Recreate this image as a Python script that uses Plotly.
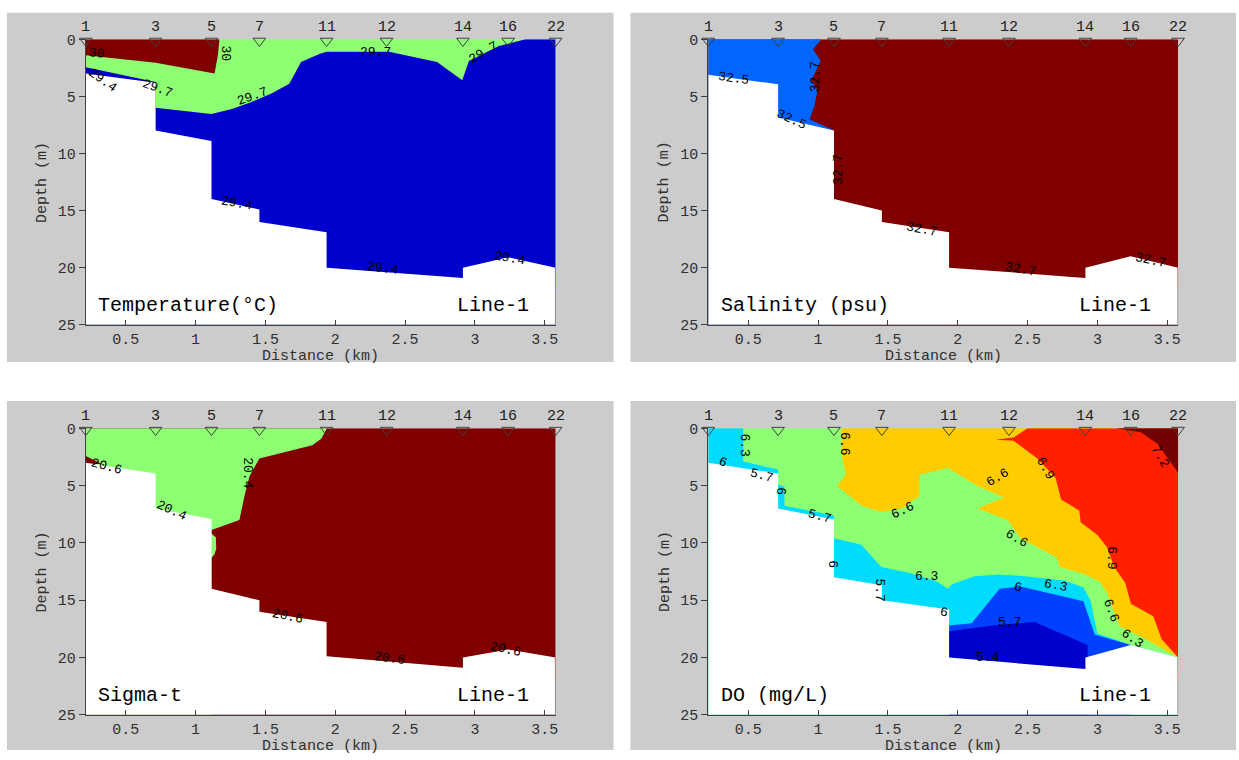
import plotly.graph_objects as go

# ---------------- data ----------------
stations = ["1", "3", "5", "7", "11", "12", "14", "16", "22"]
station_km = [0.214, 0.714, 1.114, 1.457, 1.938, 2.367, 2.914, 3.238, 3.578]
max_depth = 25

floor_km = [0.214, 0.714, 0.714, 1.114, 1.114, 1.457, 1.457, 1.938, 1.938, 2.914, 2.914, 3.238, 3.578]
temp_floor_depth = [3.0, 3.8, 8.0, 8.9, 14.0, 14.9, 16.0, 16.9, 20.0, 20.9, 20.0, 19.1, 20.0]
sal_floor_depth = [3.1, 3.95, 6.85, 8.0, 14.0, 15.0, 16.0, 16.9, 20.0, 20.9, 20.0, 19.0, 20.0]
sig_floor_depth = [3.0, 3.95, 7.0, 7.9, 14.0, 15.0, 16.0, 16.9, 19.9, 20.9, 20.0, 19.3, 20.0]
do_floor_depth = [3.0, 3.95, 7.0, 7.95, 13.0, 13.7, 15.0, 15.8, 20.0, 21.0, 20.0, 18.9, 20.0]
edge_depth = [20.0, 21.9]

# Temperature regions (29.4-29.7 blue, 29.7-30 green, >30 dark red)
temp_blue_km = [0.214, 0.714, 0.714, 1.114, 1.26, 1.4, 1.55, 1.671, 1.755, 1.886, 1.938, 2.386,
                2.729, 2.909, 2.957, 3.171, 3.362, 3.578, 3.578, 0.214]
temp_blue_depth = [2.45, 3.74, 6.0, 6.55, 6.1, 5.5, 4.7, 3.9, 2.0, 1.3, 1.1, 1.1,
                   2.0, 3.6, 1.9, 0.6, 0.0, 0.0, 25, 25]
temp_warm_km = [0.214, 1.171, 1.16, 1.136, 0.714, 0.214]
temp_warm_depth = [0.0, 0.0, 1.4, 3.0, 2.05, 1.4]
temp_lab_text = ["30", "30", "29.4", "29.7", "29.7", "29.7", "29.7", "29.4", "29.4", "29.4"]
temp_lab_km = [0.293, 1.214, 0.336, 0.729, 1.407, 2.286, 3.064, 1.293, 2.336, 3.25]
temp_lab_depth = [1.28, 1.28, 3.6, 4.28, 5.05, 1.2, 1.2, 14.4, 20.1, 19.2]
temp_lab_angle = [5, 90, 35, 20, -20, 0, -30, 10, 8, 10]

# Salinity regions (32.5-32.7 blue, >32.7 dark red)
sal_blue_km = [0.214, 1.024, 0.964, 1.019, 0.952, 0.995, 0.976, 0.94, 1.114, 1.114, 0.214]
sal_blue_depth = [0, 0, 0.88, 1.88, 3.6, 4.54, 5.73, 7.0, 8.0, 25, 25]
sal_lab_text = ["32.5", "32.7", "32.5", "32.7", "32.7", "32.7", "32.7"]
sal_lab_km = [0.393, 0.988, 0.81, 1.143, 1.738, 2.45, 3.38]
sal_lab_depth = [3.45, 3.3, 7.0, 11.45, 16.7, 20.15, 19.4]
sal_lab_angle = [8, -90, 25, -90, 10, 10, 12]

# Sigma-t regions (20.4-20.6 green, >20.6 dark red)
sig_green_km = [0.214, 1.94, 1.9, 1.836, 1.457, 1.386, 1.35, 1.314, 1.114, 1.114, 1.145,
                1.148, 1.135, 1.114, 1.114, 0.214]
sig_green_depth = [0, 0, 0.9, 1.48, 2.62, 4.18, 5.9, 8.0, 8.87, 9.2, 9.5,
                   10.5, 11.0, 11.3, 25, 25]
sig_dense_km = [0.214, 0.33, 0.214]
sig_dense_depth = [2.42, 3.1, 3.1]
sig_lab_text = ["20.6", "20.4", "20.4", "20.6", "20.6", "20.6"]
sig_lab_km = [0.362, 0.826, 1.374, 1.66, 2.386, 3.22]
sig_lab_depth = [3.33, 7.17, 3.9, 16.4, 20.1, 19.26]
sig_lab_angle = [15, 25, 90, 12, 8, 12]

# DO regions
do_cyan_a_km = [0.214, 0.464, 0.464, 0.714, 0.714, 0.76, 0.76, 1.114, 1.114, 0.214]
do_cyan_a_depth = [0, 0, 2.9, 3.6, 4.9, 5.1, 6.75, 7.6, 25, 25]
do_cyan_b_km = [1.114, 1.31, 1.452, 1.65, 1.84, 1.93, 1.96, 2.12, 2.3, 2.48, 2.77, 2.9,
                2.95, 3.0, 3.24, 3.578, 3.578, 1.114]
do_cyan_b_depth = [9.6, 10.15, 12.1, 12.6, 13.3, 14.0, 13.6, 12.9, 12.75, 12.9, 13.3, 13.9,
                   15.0, 17.9, 18.9, 20.0, 25, 25]
do_blue_km = [1.938, 2.1, 2.3, 2.45, 2.9, 2.98, 3.238, 3.238, 1.938]
do_blue_depth = [17.2, 17.0, 14.0, 13.8, 15.1, 18.0, 18.9, 25, 25]
do_dblue_km = [1.938, 2.25, 2.55, 2.93, 2.93, 1.938]
do_dblue_depth = [17.7, 17.2, 16.9, 18.9, 25, 25]
do_orange_km = [1.167, 1.17, 1.2, 1.138, 1.31, 1.452, 1.6, 1.726, 1.726, 1.93, 2.14, 2.33,
                2.14, 2.357, 2.45, 2.71, 2.73, 2.9, 3.02, 3.07, 3.12, 3.16, 3.35, 3.578, 3.578]
do_orange_depth = [0, 2.5, 4.0, 5.03, 6.74, 7.3, 7.0, 5.9, 4.04, 3.47, 5.03, 6.03,
                   7.0, 8.0, 9.6, 11.3, 12.1, 12.7, 13.4, 14.4, 16.0, 17.3, 18.4, 20.0, 0]
do_red_km = [2.5, 2.4, 2.27, 2.4, 2.57, 2.7, 2.74, 2.87, 2.88, 3.0, 3.07, 3.12, 3.2, 3.24,
             3.4, 3.46, 3.578, 3.578]
do_red_depth = [0, 0.8, 1.0, 1.08, 2.62, 4.3, 6.2, 7.17, 8.2, 9.3, 10.4, 12.1, 13.5, 15.3,
                16.4, 18.4, 20.0, 0]
do_dred_km = [3.13, 3.31, 3.43, 3.578, 3.578]
do_dred_depth = [0, 0.35, 1.35, 3.9, 0]
do_lab_text = ["6.3", "6", "5.7", "6.6", "6", "5.7", "6.6", "6", "6.3", "5.7", "6",
               "6.6", "6.9", "7.2", "6.6", "6.9", "6", "6.3", "6.6", "6.3", "5.7", "5.4"]
do_lab_km = [0.476, 0.321, 0.595, 1.19, 0.726, 1.012, 1.607, 1.107, 1.774, 1.44, 1.90,
             2.286, 2.63, 3.45, 2.42, 3.095, 2.43, 2.70, 3.10, 3.25, 2.37, 2.22]
do_lab_depth = [1.48, 2.99, 4.1, 1.34, 5.46, 7.65, 7.17, 11.86, 12.94, 14.1, 16.1,
                4.3, 3.47, 2.42, 9.6, 11.3, 13.86, 13.7, 15.86, 18.3, 16.94, 20.0]
do_lab_angle = [90, 20, 15, 90, 90, 15, -25, 90, 0, 90, 10,
                -30, 60, 60, 30, 90, 10, 10, 70, 35, 0, 0]

# ---------------- style ----------------
FONT = "Liberation Mono"
DARKRED = "#800000"
GREEN = "#8cff73"
GREY = "#cccccc"
AX = "#404040"

W, H = 1239, 760
px_left = [(86, 557), (710, 1181)]
px_top = [(33, 325), (431, 724)]

fig = go.Figure()
annotations = []
shapes = []

# grey panels
for (x0, x1) in [(7, 615), (632, 1239)]:
    for (y0, y1) in [(6, 363), (403, 760)]:
        shapes.append(dict(type="rect", xref="paper", yref="paper", layer="below",
                           x0=x0 / W, x1=x1 / W, y0=1 - y1 / H, y1=1 - y0 / H,
                           fillcolor=GREY, line=dict(width=0)))


def poly(ax, km, depth, color):
    fig.add_trace(go.Scatter(x=list(km) + [km[0]], y=list(depth) + [depth[0]], mode="lines",
                             fill="toself", fillcolor=color, line=dict(width=0, color=color),
                             hoverinfo="skip", showlegend=False, xaxis="x" + ax, yaxis="y" + ax))


def panel(ax, base, regions, floor_depth, edge_color, labels, title):
    x0, x1 = station_km[0], station_km[-1]
    poly(ax, [x0, x1, x1, x0], [0, 0, max_depth, max_depth], base)
    for km, dep, col in regions:
        poly(ax, km, dep, col)
    poly(ax, floor_km + [x1, x0], floor_depth + [max_depth, max_depth], "white")
    fig.add_trace(go.Scatter(x=[x1, x1], y=edge_depth, mode="lines",
                             line=dict(color=edge_color, width=1.5), hoverinfo="skip",
                             showlegend=False, xaxis="x" + ax, yaxis="y" + ax))
    fig.add_trace(go.Scatter(x=[x1, x1], y=[edge_depth[-1], max_depth], mode="lines",
                             line=dict(color="#808080", width=1.5), hoverinfo="skip",
                             showlegend=False, xaxis="x" + ax, yaxis="y" + ax))
    # station markers
    fig.add_trace(go.Scatter(x=station_km, y=[0.15] * len(station_km), mode="markers",
                             marker=dict(symbol="triangle-down-open", size=11,
                                         line=dict(color=AX, width=1), color=AX),
                             cliponaxis=False, hoverinfo="skip", showlegend=False,
                             xaxis="x" + ax, yaxis="y" + ax))
    xr = "x" + ax if ax else "x"
    yr = "y" + ax if ax else "y"
    for s, k in zip(stations, station_km):
        annotations.append(dict(x=k, y=0, xref=xr, yref=yr, text=s, showarrow=False,
                                xanchor="center", yanchor="middle", yshift=12,
                                font=dict(family=FONT, size=15, color="#202020")))
    for t, k, d, a in zip(*labels):
        annotations.append(dict(x=k, y=d, xref=xr, yref=yr, text=t, showarrow=False,
                                xanchor="center", yanchor="middle",
                                textangle=a, font=dict(family=FONT, size=13, color="black")))
    annotations.append(dict(x=0.29, y=23.3, xref=xr, yref=yr, text=title, showarrow=False,
                            xanchor="left", yanchor="middle",
                            font=dict(family=FONT, size=20, color="black")))
    annotations.append(dict(x=3.40, y=23.3, xref=xr, yref=yr, text="Line-1", showarrow=False,
                            xanchor="right", yanchor="middle",
                            font=dict(family=FONT, size=20, color="black")))


panel("", GREEN, [(temp_blue_km, temp_blue_depth, "#0000cc"),
                  (temp_warm_km, temp_warm_depth, DARKRED)],
      temp_floor_depth, "#6a6aff",
      (temp_lab_text, temp_lab_km, temp_lab_depth, temp_lab_angle), "Temperature(°C)")
panel("2", DARKRED, [(sal_blue_km, sal_blue_depth, "#0066ff")],
      sal_floor_depth, "#c06060",
      (sal_lab_text, sal_lab_km, sal_lab_depth, sal_lab_angle), "Salinity (psu)")
panel("3", DARKRED, [(sig_green_km, sig_green_depth, GREEN),
                     (sig_dense_km, sig_dense_depth, DARKRED)],
      sig_floor_depth, "#c06060",
      (sig_lab_text, sig_lab_km, sig_lab_depth, sig_lab_angle), "Sigma-t")
panel("4", GREEN, [(do_cyan_a_km, do_cyan_a_depth, "#00dcff"),
                   (do_cyan_b_km, do_cyan_b_depth, "#00dcff"),
                   (do_blue_km, do_blue_depth, "#0040ff"),
                   (do_dblue_km, do_dblue_depth, "#0000cd"),
                   (do_orange_km, do_orange_depth, "#ffcc00"),
                   (do_red_km, do_red_depth, "#ff2000"),
                   (do_dred_km, do_dred_depth, "#730000")],
      do_floor_depth, "#ff6050",
      (do_lab_text, do_lab_km, do_lab_depth, do_lab_angle), "DO (mg/L)")

layout_axes = {}
names = [("xaxis", "yaxis", 0, 0), ("xaxis2", "yaxis2", 1, 0),
         ("xaxis3", "yaxis3", 0, 1), ("xaxis4", "yaxis4", 1, 1)]
for xn, yn, c, r in names:
    (xa, xb), (ya, yb) = px_left[c], px_top[r]
    anchor_y = "y" + yn[5:]
    anchor_x = "x" + xn[5:]
    layout_axes[xn] = dict(domain=[xa / W, xb / W], range=[station_km[0], station_km[-1]],
                           anchor=anchor_y, tickvals=[0.5, 1, 1.5, 2, 2.5, 3, 3.5],
                           ticktext=["0.5", "1", "1.5", "2", "2.5", "3", "3.5"],
                           ticks="inside", ticklen=5, tickcolor=AX, showline=True,
                           linecolor=AX, linewidth=1, showgrid=False, zeroline=False,
                           tickfont=dict(family=FONT, size=15, color="#303030"))
    layout_axes[yn] = dict(domain=[1 - yb / H, 1 - ya / H], range=[max_depth, 0],
                           anchor=anchor_x, tickvals=[0, 5, 10, 15, 20, 25],
                           ticks="outside", ticklen=6, tickcolor=AX, showline=True,
                           linecolor=AX, linewidth=1, showgrid=False, zeroline=False,
                           tickfont=dict(family=FONT, size=15, color="#303030"))
    annotations.append(dict(x=(xa + xb) / 2 / W, y=1 - (yb + 32) / H, xref="paper", yref="paper",
                            text="Distance (km)", showarrow=False,
                            xanchor="center", yanchor="middle",
                            font=dict(family=FONT, size=15, color="#303030")))
    annotations.append(dict(x=(xa - 43) / W, y=1 - (ya + yb) / 2 / H, xref="paper", yref="paper",
                            text="Depth (m)", showarrow=False, textangle=-90,
                            xanchor="center", yanchor="middle",
                            font=dict(family=FONT, size=15, color="#303030")))

fig.update_layout(width=W, height=H, margin=dict(l=0, r=0, t=0, b=0),
                  paper_bgcolor="white", plot_bgcolor="white", showlegend=False,
                  shapes=shapes, annotations=annotations, **layout_axes)

fig.write_html("out.html")
